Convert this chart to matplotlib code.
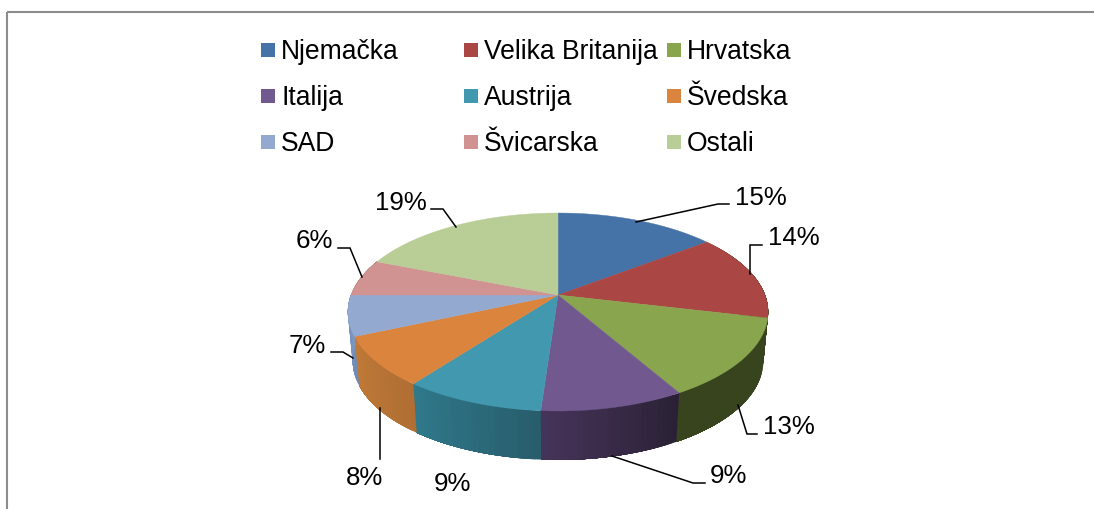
import numpy as np
import matplotlib
matplotlib.use("Agg")
import matplotlib.pyplot as plt
from matplotlib.patches import Rectangle

# ---- data ----
countries = ["Njemačka", "Velika Britanija", "Hrvatska", "Italija", "Austrija",
             "Švedska", "SAD", "Švicarska", "Ostali"]
shares = [14.6, 14.1, 13.0, 9.4, 9.2, 8.1, 6.6, 6.0, 19.0]
labels = [f"{v:.0f}%" for v in shares]

# ---- styles ----
top_colors = ["#4572A7", "#AA4643", "#89A54E", "#71588F", "#4198AF",
              "#DB843D", "#93A9CF", "#D19392", "#B9CD96"]
side_colors = [("#2f4d72", "#2f4d72"), ("#38441e", "#38441e"), ("#38441e", "#38441e"),
               ("#2a2135", "#46345a"), ("#285c6b", "#2f7a8c"), ("#b06e33", "#c07a38"),
               ("#6f8cb8", "#7c97c0"), ("#a06e6d", "#a06e6d"), ("#8a9a70", "#8a9a70")]

plt.rcParams["font.family"] = ["Liberation Sans", "DejaVu Sans"]
fig = plt.figure(figsize=(10.94, 5.09), dpi=100)
ax = fig.add_axes([0, 0, 1, 1])
ax.set_xlim(0, 1094)
ax.set_ylim(509, 0)
ax.axis("off")

ax.add_patch(Rectangle((6.5, 12), 1200, 600, fill=False, ec="#8c8c8c", lw=1.5))

# ---- projection of the tilted disc ----
CX, CY = 558.0, 295.0
SX, PA, PC = 207.0, 45.4, -0.1717
DEPTH = 49.0
XSHRINK = 0.977


def rim(theta):
    x = np.sin(theta)
    y = -np.cos(theta)
    d = 1 + PC * y
    return CX + SX * x / d, (CY + PA * y) / d


def rim_low(theta):
    x, y = rim(theta)
    return CX + (x - CX) * XSHRINK, y + DEPTH


def hex2rgb(c):
    return np.array(matplotlib.colors.to_rgb(c))


edges = np.cumsum([0] + shares) / sum(shares) * 2 * np.pi

# side walls: every strip runs on to the end of its slice, so no seams show
for i in range(len(shares)):
    a0, a1 = edges[i], edges[i + 1]
    if a1 < np.radians(100) or a0 > np.radians(275):
        continue
    steps = 24
    ts = np.linspace(a0, a1, steps + 1)
    c0, c1 = hex2rgb(side_colors[i][0]), hex2rgb(side_colors[i][1])
    for k in range(steps):
        t = np.linspace(ts[k], a1, 30)
        x1, y1 = rim(t)
        x2, y2 = rim_low(t)
        col = c0 + (c1 - c0) * (k + 0.5) / steps
        ax.fill(np.r_[x1, x2[::-1]], np.r_[y1, y2[::-1]], color=col, lw=0, zorder=2 + i * 0.01)

# top face
for i in range(len(shares)):
    t = np.linspace(edges[i], edges[i + 1], 80)
    x, y = rim(t)
    ax.fill(np.r_[CX, x], np.r_[CY, y], color=top_colors[i], lw=0.3, zorder=3)

# ---- legend ----
col_x = [261, 464, 667]
row_y = [50, 96, 142]
for i, name in enumerate(countries):
    x = col_x[i % 3]
    y = row_y[i // 3]
    ax.add_patch(Rectangle((x, y - 7), 14, 14, fc=top_colors[i], ec="none", zorder=4))
    ax.text(x + 20, y + 9, name, fontsize=19.1, va="baseline", ha="left", color="#000000")

# ---- data labels and leader lines ----
label_pos = [(735, 205), (768, 245), (763, 434), (710, 483), (434, 491),
             (346, 485), (289, 353), (296, 248), (375, 210)]
leaders = [[(636, 222), (718, 204), (729, 204)],
           [(750, 274), (750, 245), (762, 245)],
           [(738, 405), (747, 434), (757, 434)],
           [(612, 456), (693, 483), (705, 483)],
           None,
           [(380, 408), (380, 459)],
           [(353, 358), (343, 352), (331, 352)],
           [(362, 277), (350, 248), (338, 248)],
           [(456, 227), (443, 209), (431, 209)]]
for text, (x, y), line in zip(labels, label_pos, leaders):
    ax.text(x, y, text, fontsize=18.6, va="baseline", ha="left", color="#000000", zorder=6)
    if line:
        xs, ys = zip(*line)
        ax.plot(xs, ys, color="#000000", lw=1.1, zorder=5, solid_joinstyle="miter")

fig.savefig("out.png", dpi=100)
